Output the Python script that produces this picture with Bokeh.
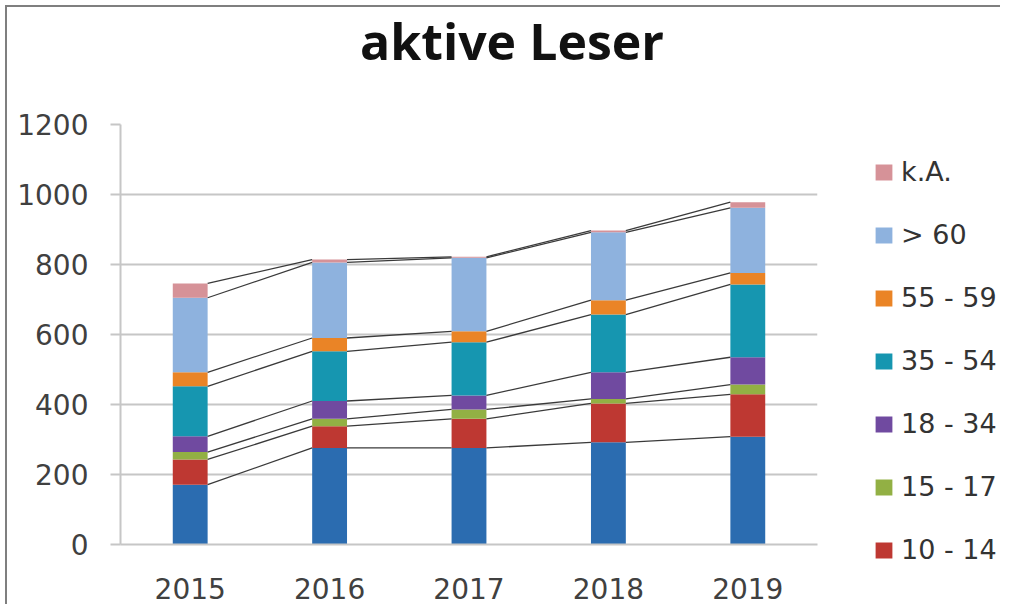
from bokeh.plotting import figure
from bokeh.layouts import row, column
from bokeh.models import (FactorRange, Range1d, Legend, LegendItem, ColumnDataSource, Div)
from bokeh.transform import dodge
from bokeh.embed import file_html
from bokeh.resources import INLINE

# ---- data ----
title_text = "aktive Leser"
years = ["2015", "2016", "2017", "2018", "2019"]
labels = ["0 - 9", "10 - 14", "15 - 17", "18 - 34", "35 - 54", "55 - 59", "> 60", "k.A."]
s_0_9 = [171, 276, 276, 292, 308]
s_10_14 = [72, 62, 83, 111, 121]
s_15_17 = [21, 21, 27, 13, 28]
s_18_34 = [45, 51, 40, 76, 78]
s_35_54 = [143, 142, 152, 165, 208]
s_55_59 = [40, 38, 31, 41, 33]
s_60plus = [213, 216, 210, 194, 186]
s_ka = [41, 8, 3, 5, 16]
colors = ["#2B6CB0", "#BE3832", "#92B044", "#704AA0", "#1696B0", "#EA8426", "#8EB2DE", "#D69298"]
y_ticks = [0, 200, 400, 600, 800, 1000, 1200]

series = [s_0_9, s_10_14, s_15_17, s_18_34, s_35_54, s_55_59, s_60plus, s_ka]
keys = ["s%d" % i for i in range(len(series))]
data = {"year": years}
for k, s in zip(keys, series):
    data[k] = s
src = ColumnDataSource(data)

FONT = "DejaVu Sans"
TFONT = "Open Sans"
BAR_W = 0.25
TITLE_H = 64
H = 597 - TITLE_H

p = figure(x_range=FactorRange(*years, range_padding=0.0), y_range=Range1d(0, 1200),
           width=823, height=H, output_backend="svg", toolbar_location=None,
           min_border_left=113, min_border_right=13, min_border_top=117 - TITLE_H,
           min_border_bottom=60)
p.x_range.factor_padding = 0.0

rends = p.vbar_stack(keys, x="year", width=BAR_W, color=colors, source=src, line_width=0)

# series lines connecting the stack levels
cum = [0] * len(years)
for s in series:
    cum = [c + v for c, v in zip(cum, s)]
    seg = ColumnDataSource(dict(x0=years[:-1], x1=years[1:], y0=cum[:-1], y1=cum[1:]))
    p.segment(x0=dodge("x0", BAR_W / 2, range=p.x_range), y0="y0",
              x1=dodge("x1", -BAR_W / 2, range=p.x_range), y1="y1",
              source=seg, line_color="#3a3a3a", line_width=1.3)

# axes & grid
p.outline_line_color = None
p.xgrid.grid_line_color = None
p.ygrid.grid_line_color = "#c6c6c6"
p.ygrid.grid_line_width = 2
p.yaxis.ticker = y_ticks
p.yaxis.axis_line_color = "#c6c6c6"
p.yaxis.axis_line_width = 2
p.yaxis.major_tick_line_color = "#c6c6c6"
p.yaxis.major_tick_line_width = 2
p.yaxis.major_tick_out = 10
p.yaxis.major_tick_in = 0
p.yaxis.minor_tick_line_color = None
p.yaxis.major_label_standoff = 22
p.xaxis.axis_line_color = "#c6c6c6"
p.xaxis.axis_line_width = 2
p.xaxis.major_tick_line_color = None
p.xaxis.major_tick_out = 0
p.xaxis.major_label_standoff = 33
for ax in (p.xaxis, p.yaxis):
    ax.major_label_text_font = FONT
    ax.major_label_text_font_size = "28px"
    ax.major_label_text_color = "#404040"

# legend panel: a second figure holding the same stacked series (below its visible
# y range) so that the legend gets real glyphs
lf = figure(width=170, height=H, output_backend="svg", toolbar_location=None,
            x_range=FactorRange(*years), y_range=Range1d(2000, 3000),
            x_axis_type=None, y_axis_type=None, min_border=0)
lf.outline_line_color = None
lf.xgrid.visible = False
lf.ygrid.visible = False
proxies = lf.vbar_stack(keys, x="year", width=BAR_W, color=colors, source=src, line_width=0)
items = [LegendItem(label=labels[i], renderers=[proxies[i]]) for i in range(len(series) - 1, 0, -1)]
legend = Legend(items=items, location=(43, 39), orientation="vertical",
                glyph_width=21, glyph_height=20, label_height=20, spacing=32,
                label_standoff=7, padding=0, margin=0,
                border_line_color=None, background_fill_alpha=0,
                label_text_font=FONT, label_text_font_size="27px", label_text_color="#333333")
lf.add_layout(legend, "center")

# title as a text block above the plots
title = Div(text=title_text, width=993, height=TITLE_H, margin=0,
            styles={"font-family": "'%s', sans-serif" % TFONT, "font-size": "50px",
                    "font-weight": "bold", "color": "#111111", "line-height": "68px",
                    "white-space": "nowrap", "padding-left": "353px",
                    "box-sizing": "border-box", "overflow": "visible"})

layout = column(title, row(p, column(lf), spacing=0), spacing=0)
layout.margin = (5, 0, 0, 5)
layout.styles = {"border-top": "2px solid #7f7f7f", "border-left": "2px solid #7f7f7f"}

open("out.html", "w").write(file_html(layout, INLINE))
